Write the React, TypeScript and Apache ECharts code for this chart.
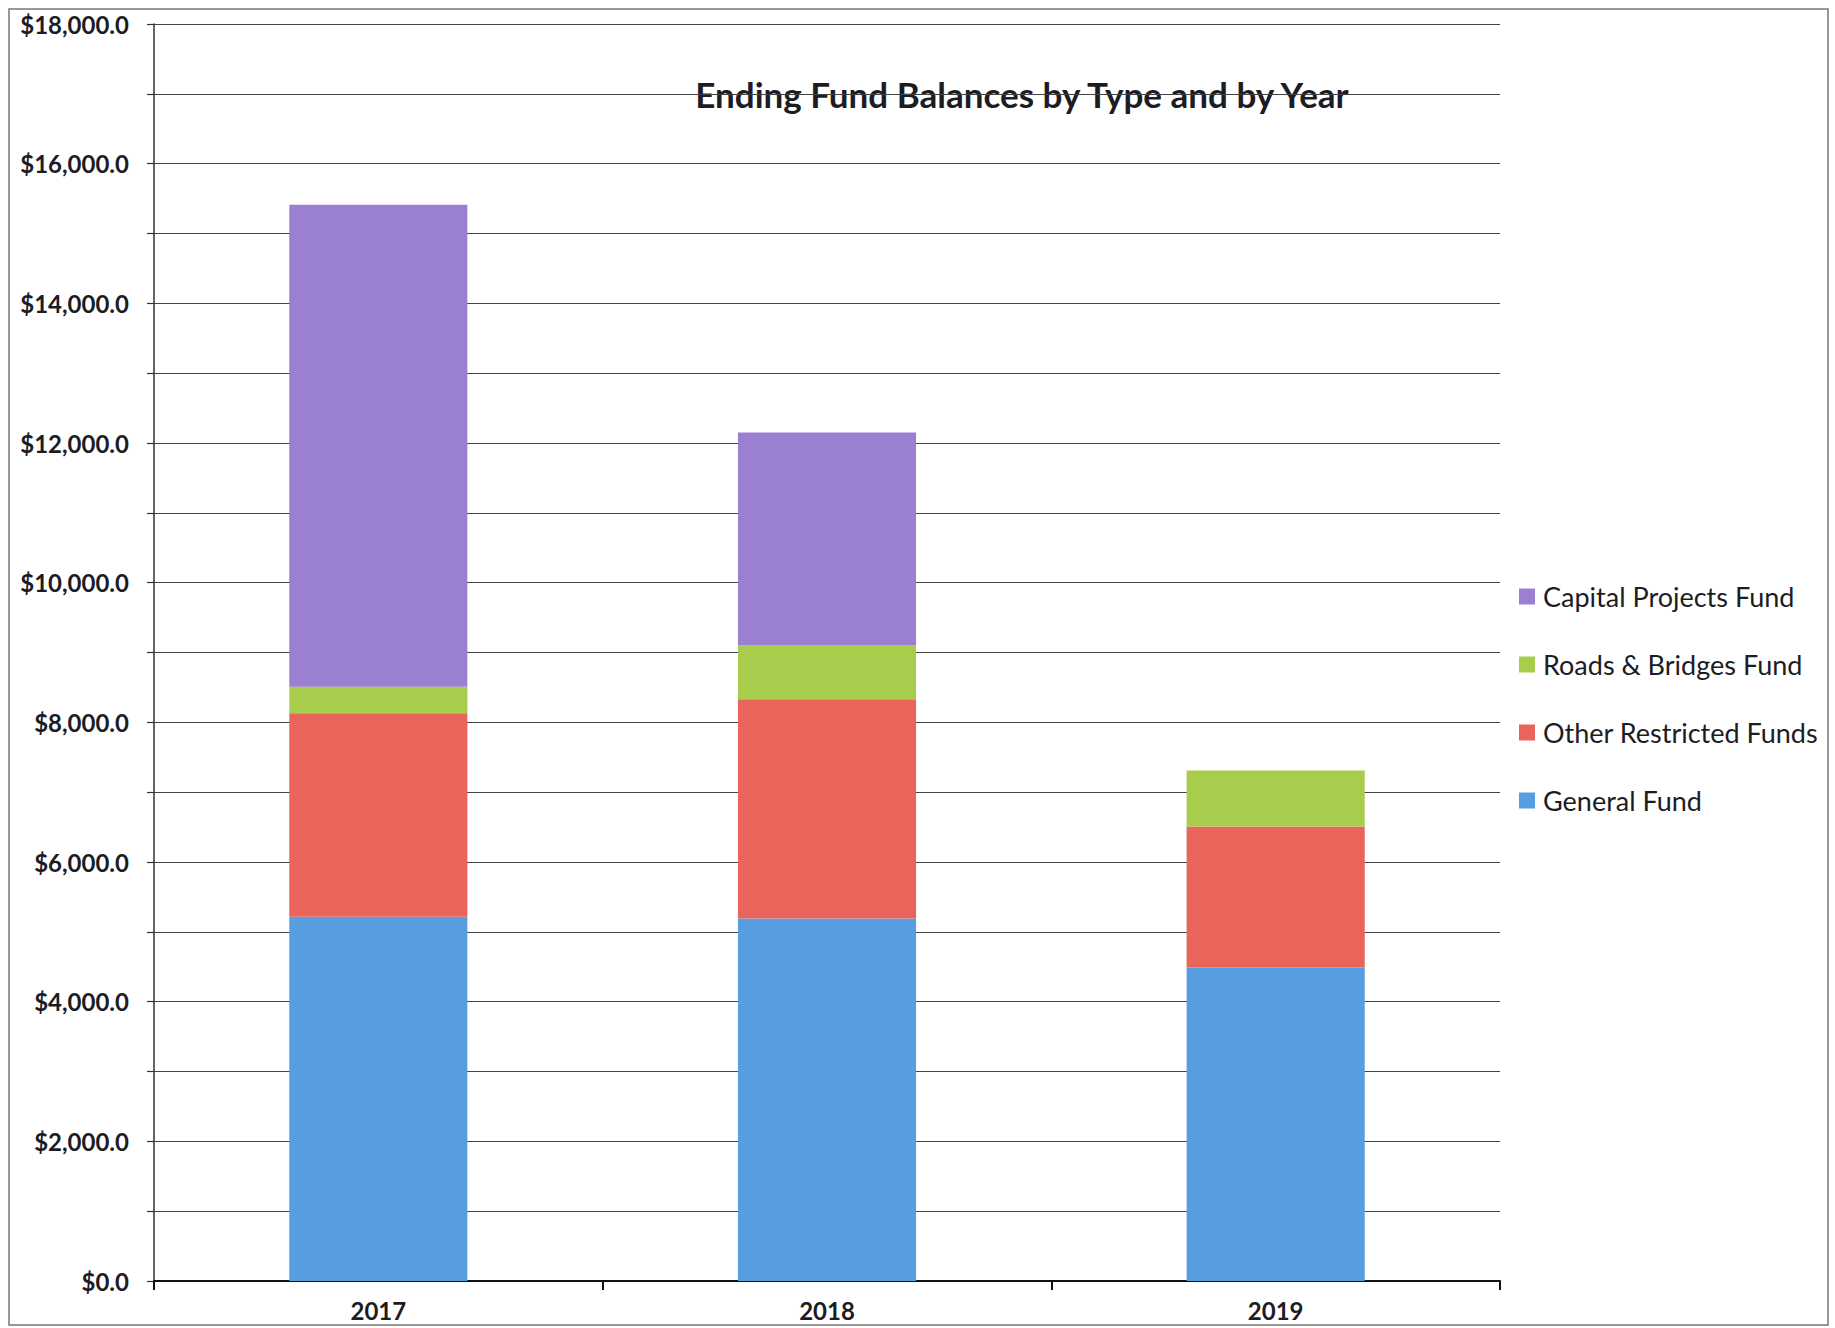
import React, { useEffect, useRef } from "react";
import * as echarts from "echarts";

const years = ["2017", "2018", "2019"];
const generalFund = [5215, 5190, 4490];
const otherRestrictedFunds = [2915, 3140, 2020];
const roadsBridgesFund = [380, 770, 800];
const capitalProjectsFund = [6900, 3050, 0];

const chartTitle = "Ending Fund Balances by Type and by Year";
const legendOrder = [
  "Capital Projects Fund",
  "Roads & Bridges Fund",
  "Other Restricted Funds",
  "General Fund",
];

const FONT = "Lato, 'Open Sans', 'Liberation Sans', sans-serif";
const TEXT = "#1c1c24";

export default function App() {
  const ref = useRef<HTMLDivElement>(null);

  useEffect(() => {
    if (!ref.current) return;
    const chart = echarts.init(ref.current, undefined, { renderer: "svg" });
    const mk = (name: string, data: number[], color: string) => ({
      name,
      type: "bar",
      stack: "total",
      data,
      barWidth: "39.7%",
      itemStyle: { color },
      emphasis: { disabled: true },
    });
    chart.setOption({
      animation: false,
      backgroundColor: "#ffffff",
      grid: { left: 154, right: 335, top: 24, bottom: 47, containLabel: false },
      legend: {
        orient: "vertical",
        left: 1514,
        top: 578,
        data: legendOrder,
        icon: "rect",
        itemWidth: 16,
        itemHeight: 16,
        itemGap: 41,
        textStyle: {
          fontFamily: FONT,
          fontSize: 27,
          lineHeight: 27,
          color: TEXT,
          padding: [0, 0, 0, 3],
        },
        selectedMode: false,
      },
      xAxis: {
        type: "category",
        data: years,
        axisLine: { lineStyle: { color: "#111", width: 2 } },
        axisTick: { show: true, length: 9, lineStyle: { color: "#111", width: 2 } },
        axisLabel: {
          fontFamily: FONT,
          fontWeight: "bold",
          fontSize: 24,
          color: TEXT,
          margin: 17,
        },
      },
      yAxis: {
        type: "value",
        min: 0,
        max: 18000,
        interval: 1000,
        axisLine: { show: true, lineStyle: { color: "#333", width: 1.5 } },
        axisTick: { show: true, length: 7, lineStyle: { color: "#333", width: 1.2 } },
        splitLine: { show: true, lineStyle: { color: "#444", width: 1.2 } },
        axisLabel: {
          fontFamily: FONT,
          fontWeight: "bold",
          fontSize: 24,
          color: TEXT,
          margin: 25,
          formatter: (v: number) =>
            v % 2000 === 0
              ? "$" +
                v.toLocaleString("en-US", {
                  minimumFractionDigits: 1,
                  maximumFractionDigits: 1,
                })
              : "",
        },
      },
      graphic: [
        {
          type: "rect",
          shape: { x: 9, y: 9, width: 1819, height: 1316 },
          style: { fill: "none", stroke: "#777", lineWidth: 1.5 },
          silent: true,
        },
        {
          type: "text",
          x: 1022,
          y: 94,
          style: {
            text: chartTitle,
            font: `bold 35px ${FONT}`,
            fill: TEXT,
            textAlign: "center",
            textVerticalAlign: "middle",
          },
          silent: true,
        },
      ],
      series: [
        mk("General Fund", generalFund, "#579ee0"),
        mk("Other Restricted Funds", otherRestrictedFunds, "#e9645a"),
        mk("Roads & Bridges Fund", roadsBridgesFund, "#a8cc4c"),
        mk("Capital Projects Fund", capitalProjectsFund, "#9b80d2"),
      ],
    });
    return () => chart.dispose();
  }, []);

  return (
    <div
      ref={ref}
      style={{ position: "absolute", left: 0, top: 0, width: 1835, height: 1328 }}
    />
  );
}
